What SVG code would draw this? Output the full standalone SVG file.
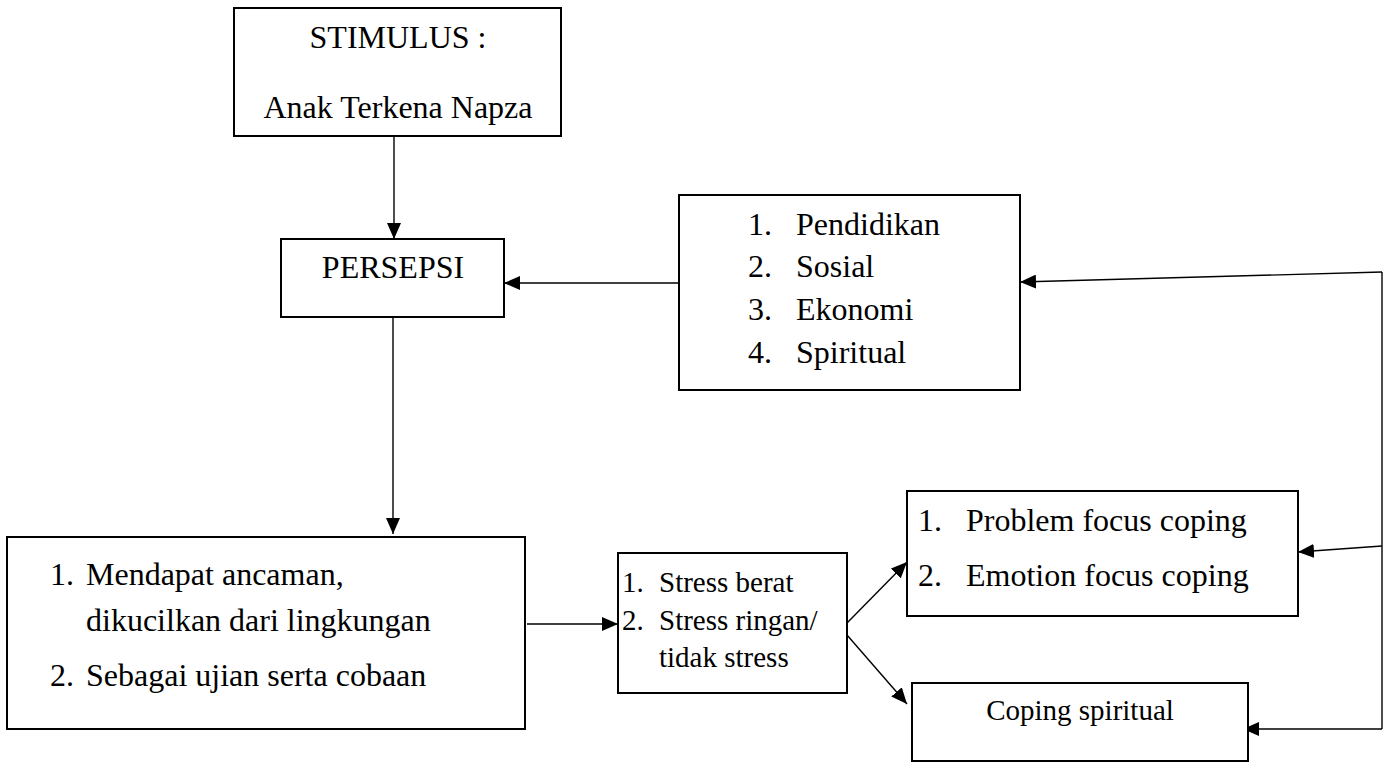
<svg xmlns="http://www.w3.org/2000/svg" width="1392" height="762" viewBox="0 0 1392 762">
<defs>
<style>
.box{fill:#fff;stroke:#000;stroke-width:2}
.t{font-family:"Liberation Serif","Times New Roman",serif;font-size:32px;fill:#000}
.s{font-size:29px}
.c{text-anchor:middle}
.ln{fill:none;stroke:#000;stroke-width:1.4}
</style>
<marker id="ah" markerUnits="userSpaceOnUse" markerWidth="16" markerHeight="14" refX="16" refY="7" orient="auto">
<path d="M0,0 L16,7 L0,14 z" fill="#000"/>
</marker>
</defs>
<rect width="1392" height="762" fill="#fff"/>
<g id="connectors">
<line class="ln" x1="394" y1="136" x2="394" y2="239" marker-end="url(#ah)"/>
<line class="ln" x1="679" y1="283" x2="504" y2="283" marker-end="url(#ah)"/>
<line class="ln" x1="393" y1="317" x2="393" y2="534" marker-end="url(#ah)"/>
<line class="ln" x1="527" y1="624" x2="618" y2="624" marker-end="url(#ah)"/>
<line class="ln" x1="847" y1="623" x2="907" y2="562" marker-end="url(#ah)"/>
<line class="ln" x1="847" y1="635" x2="907" y2="704" marker-end="url(#ah)"/>
<polyline class="ln" points="1382,272 1382,729"/>
<line class="ln" x1="1382" y1="272" x2="1020" y2="282" marker-end="url(#ah)"/>
<line class="ln" x1="1382" y1="546" x2="1298" y2="552" marker-end="url(#ah)"/>
<line class="ln" x1="1382" y1="729" x2="1243" y2="729" marker-end="url(#ah)"/>
</g>
<g id="stimulus">
<rect class="box" x="234" y="8" width="327" height="128"/>
<text class="t c" x="398" y="48">STIMULUS :</text>
<text class="t c" x="398" y="118">Anak Terkena Napza</text>
</g>
<g id="persepsi">
<rect class="box" x="281" y="239" width="223" height="78"/>
<text class="t c" x="393" y="278">PERSEPSI</text>
</g>
<g id="faktor">
<rect class="box" x="679" y="195" width="341" height="195"/>
<text class="t" x="748" y="235">1.</text><text class="t" x="796" y="235">Pendidikan</text>
<text class="t" x="748" y="277">2.</text><text class="t" x="796" y="277">Sosial</text>
<text class="t" x="748" y="320">3.</text><text class="t" x="796" y="320">Ekonomi</text>
<text class="t" x="748" y="363">4.</text><text class="t" x="796" y="363">Spiritual</text>
</g>
<g id="respon">
<rect class="box" x="7" y="537" width="518" height="192"/>
<text class="t" x="50" y="585">1.</text><text class="t" x="86" y="585">Mendapat ancaman,</text>
<text class="t" x="86" y="631">dikucilkan dari lingkungan</text>
<text class="t" x="50" y="686">2.</text><text class="t" x="86" y="686">Sebagai ujian serta cobaan</text>
</g>
<g id="stress">
<rect class="box" x="618" y="553" width="229" height="140"/>
<text class="t s" x="622" y="592">1.</text><text class="t s" x="659" y="592">Stress berat</text>
<text class="t s" x="622" y="630">2.</text><text class="t s" x="659" y="630">Stress ringan/</text>
<text class="t s" x="659" y="667">tidak stress</text>
</g>
<g id="coping-focus">
<rect class="box" x="907" y="491" width="391" height="125"/>
<text class="t" x="918" y="531">1.</text><text class="t" x="966" y="531">Problem focus coping</text>
<text class="t" x="918" y="586">2.</text><text class="t" x="966" y="586">Emotion focus coping</text>
</g>
<g id="coping-spiritual">
<rect class="box" x="912" y="683" width="336" height="78"/>
<text class="t s c" x="1080" y="720">Coping spiritual</text>
</g>
</svg>
